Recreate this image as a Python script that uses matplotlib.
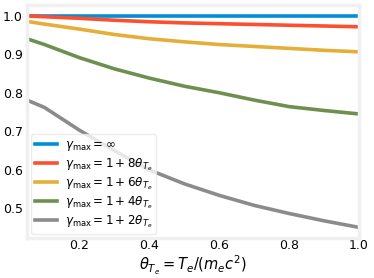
import numpy as np
import matplotlib
matplotlib.use("Agg")
import matplotlib.pyplot as plt

theta = [0.05, 0.1, 0.2, 0.3, 0.4, 0.5, 0.6, 0.7, 0.8, 0.9, 1.0]
frac_inf = [1.0] * len(theta)
frac_8 = [0.999, 0.997, 0.993, 0.988, 0.984, 0.981, 0.979, 0.977, 0.975, 0.973, 0.971]
frac_6 = [0.985, 0.978, 0.965, 0.951, 0.940, 0.932, 0.925, 0.920, 0.915, 0.910, 0.906]
frac_4 = [0.940, 0.925, 0.891, 0.862, 0.838, 0.817, 0.800, 0.781, 0.764, 0.754, 0.745]
frac_2 = [0.781, 0.762, 0.703, 0.650, 0.600, 0.564, 0.534, 0.508, 0.487, 0.468, 0.451]

labels = [r'$\gamma_{\rm max}=\infty$',
          r'$\gamma_{\rm max}=1+8\theta_{T_e}$',
          r'$\gamma_{\rm max}=1+6\theta_{T_e}$',
          r'$\gamma_{\rm max}=1+4\theta_{T_e}$',
          r'$\gamma_{\rm max}=1+2\theta_{T_e}$']
colors = ['#008fd5', '#fc4f30', '#e5ae38', '#6d904f', '#8b8b8b']

fig = plt.figure(figsize=(3.74, 2.78), dpi=100)
ax = fig.add_axes([0.072, 0.144, 0.888, 0.838])

for y, lab, c in zip([frac_inf, frac_8, frac_6, frac_4, frac_2], labels, colors):
    ax.plot(theta, y, color=c, lw=2.6, label=lab)

ax.set_xlim(theta[0], theta[-1])
ax.margins(y=0.05)
ax.set_xticks([0.2, 0.4, 0.6, 0.8, 1.0])
ax.set_yticks([0.5, 0.6, 0.7, 0.8, 0.9, 1.0])
ax.tick_params(axis='x', length=0, labelsize=9, pad=1)
ax.tick_params(axis='y', length=0, labelsize=9, pad=3)
for s in ax.spines.values():
    s.set_color('#f0f0f0')
    s.set_linewidth(2.5)

ax.set_xlabel(r'$\theta_{T_e} = T_e/(m_e c^2)$', fontsize=10.5, labelpad=1)
leg = ax.legend(loc='lower left', fontsize=8.6, handlelength=1.9,
                handletextpad=0.6, borderaxespad=0.3, labelspacing=0.22,
                borderpad=0.35, frameon=True)
leg.get_frame().set_edgecolor('#e8e8e8')

fig.savefig('out.png', dpi=100)
